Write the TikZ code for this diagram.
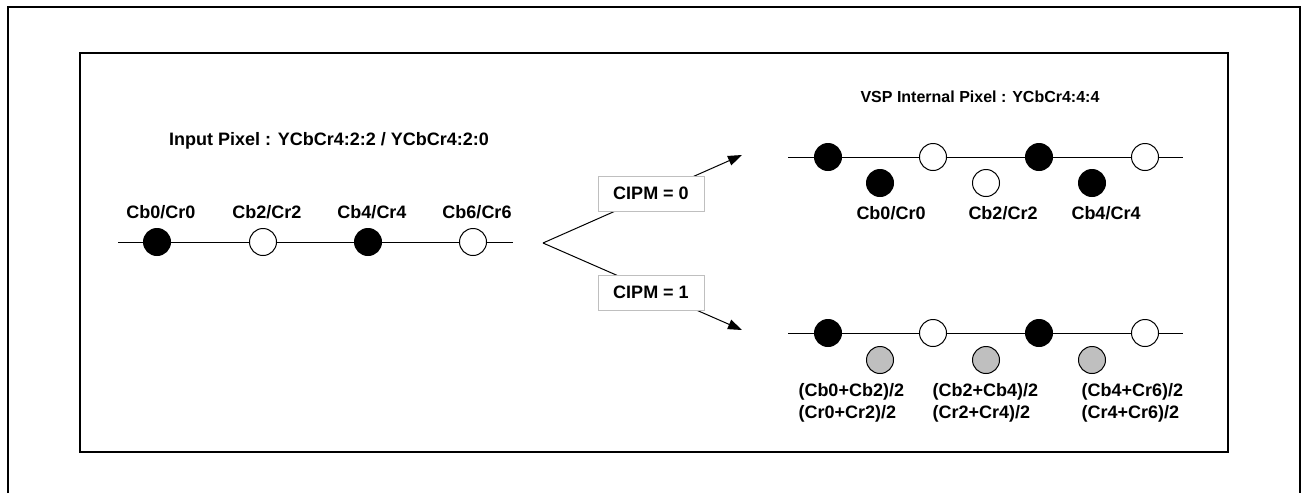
\documentclass[tikz,border=0pt]{standalone}
\usepackage{fontspec}
\setmainfont{Liberation Sans}
\usetikzlibrary{arrows.meta}
\begin{document}
\begin{tikzpicture}[x=1pt,y=-1pt,line width=1pt,
    font=\fontsize{18}{22}\selectfont\bfseries,inner sep=0pt,
    fullpix/.style={circle,draw,fill=black,minimum size=27pt},
    openpix/.style={circle,draw,fill=white,minimum size=27pt},
    avgpix/.style={circle,draw,fill=black!25,minimum size=27pt},
    pixtext/.style={align=center},
    modebox/.style={draw=black!25,fill=white,line width=0.8pt,
      minimum width=106pt,minimum height=35pt},
    branch/.style={-{Triangle[length=14pt,width=10pt]}}]
    \path[use as bounding box] (0,0) rectangle (1303,493);
    \draw[line width=1.6pt] (8,493) -- (8,7) -- (1300,7) -- (1300,493);
    \draw[line width=1.3pt] (80,53) rectangle (1228,452);
    % input side
    \node[pixtext] (intitle) at (329,141) {Input Pixel : YCbCr4:2:2 / YCbCr4:2:0};
    \coordinate (inL) at (118,242);
    \coordinate (inR) at (513,242);
    \draw (inL) -- (inR);
    \foreach \n/\x/\s in {0/157/fullpix,2/263/openpix,4/368/fullpix,6/473/openpix} {
      \node[\s] (in\n) at (\x,242) {};
      \node[pixtext] (inl\n) at (\x+4,212) {Cb\n/Cr\n};
    }
    % branches
    \coordinate (fork) at (543,243);
    \coordinate (to0) at (742,155);
    \coordinate (to1) at (742,330);
    \draw[branch] (fork) -- (to0);
    \draw[branch] (fork) -- (to1);
    \node[modebox] (cipm0) at (651,193.5) {CIPM = 0};
    \node[modebox] (cipm1) at (651,292.5) {CIPM = 1};
    % CIPM = 0
    \node[pixtext,font=\fontsize{16}{19}\selectfont\bfseries] (outtitle)
      at (980,97) {VSP Internal Pixel : YCbCr4:4:4};
    \coordinate (aL) at (788,157);
    \coordinate (aR) at (1183,157);
    \draw (aL) -- (aR);
    \foreach \n/\x/\s in {0/828/fullpix,1/933/openpix,2/1039/fullpix,3/1145/openpix}
      {\node[\s] (a\n) at (\x,157) {};}
    \foreach \n/\x/\s/\dx in {0/880/fullpix/11,2/986/openpix/17,4/1092/fullpix/14} {
      \node[\s] (ac\n) at (\x,183) {};
      \node[pixtext] (acl\n) at (\x+\dx,213) {Cb\n/Cr\n};
    }
    % CIPM = 1
    \coordinate (bL) at (788,333);
    \coordinate (bR) at (1183,333);
    \draw (bL) -- (bR);
    \foreach \n/\x/\s in {0/828/fullpix,1/933/openpix,2/1039/fullpix,3/1145/openpix}
      {\node[\s] (b\n) at (\x,333) {};}
    \foreach \n/\x in {0/880,1/986,2/1092}
      {\node[avgpix] (bc\n) at (\x,360) {};}
    \foreach \n/\x/\t/\u in {0/798/{(Cb0+Cb2)/2}/{(Cr0+Cr2)/2},
        1/932/{(Cb2+Cb4)/2}/{(Cr2+Cr4)/2},2/1081/{(Cb4+Cr6)/2}/{(Cr4+Cr6)/2}}
      {\node[pixtext,align=left,anchor=west] (bcl\n) at (\x,403) {\t\\\u};}
  \end{tikzpicture}
\end{document}
